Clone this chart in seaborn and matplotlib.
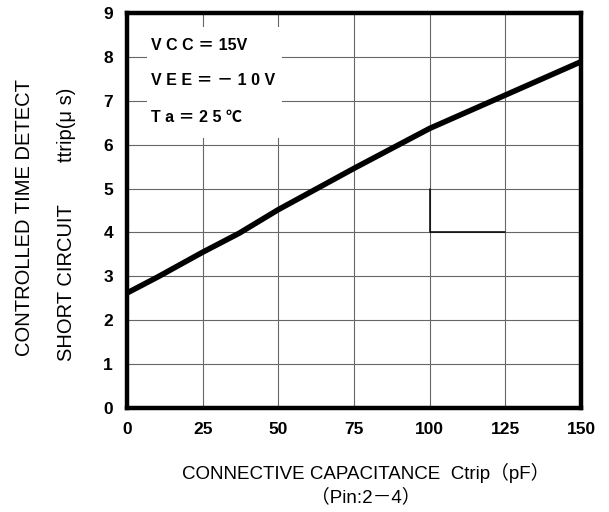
import numpy as np
import pandas as pd
import seaborn as sns
import matplotlib.pyplot as plt
from matplotlib.patches import Rectangle

# curve
ctrip = [0, 10, 25, 37, 50, 75, 100, 125, 150]
ttrip = [2.62, 2.98, 3.55, 3.98, 4.52, 5.46, 6.37, 7.13, 7.89]

x_ticks = [0, 25, 50, 75, 100, 125, 150]
y_ticks = list(range(0, 10))

# darker grid segments in the scan
dark_x = [100, 100, 125]
dark_y = [5, 4, 4]

conditions = ["V C C ＝ 15V", "V E E ＝ － 1 0 V", "T a ＝ 2 5 ℃"]

df = pd.DataFrame({"Ctrip": ctrip, "ttrip": ttrip})

sns.set_style("white")
plt.rcParams['font.family'] = ['Liberation Sans', 'Noto Sans CJK JP', 'DejaVu Sans']
plt.rcParams['text.color'] = 'black'
plt.rcParams['xtick.color'] = 'black'
plt.rcParams['ytick.color'] = 'black'

fig = plt.figure(figsize=(6.09, 5.12), dpi=100)
ax = fig.add_axes([127/609, 1-408/512, 454/609, 395/512])

ax.set_xlim(0, 150)
ax.set_ylim(0, 9)
ax.set_xticks(x_ticks)
ax.set_yticks(y_ticks)
ax.grid(True, color='#666666', linewidth=0.8)
ax.set_axisbelow(True)

# white area behind the conditions text
ax.add_patch(Rectangle((6.6, 6.15), 44.6, 2.53, facecolor='white', edgecolor='none', zorder=1.5))
ax.plot(dark_x, dark_y, color='black', linewidth=1.1, zorder=1.8)

sns.lineplot(data=df, x="Ctrip", y="ttrip", ax=ax, color='black', linewidth=4, zorder=3)

for sp in ax.spines.values():
    sp.set_linewidth(3.2)
    sp.set_color('black')

ax.tick_params(length=0, pad=10, labelsize=12.5)
for lab in ax.get_xticklabels() + ax.get_yticklabels():
    lab.set_fontweight('bold')
ax.set_xlabel("")
ax.set_ylabel("")

cond_y = [8.27, 7.47, 6.63]
for txt, yy in zip(conditions, cond_y):
    ax.text(8, yy, txt, fontsize=11.5, va='center', ha='left', fontweight='bold',
            family=['Liberation Sans', 'Noto Sans CJK JP', 'DejaVu Sans'], zorder=4)

fig.text(25/609, 1-218/512, "CONTROLLED TIME DETECT", rotation=90, ha='center', va='center', fontsize=14.5)
fig.text(66/609, 1-283/512, "SHORT CIRCUIT", rotation=90, ha='center', va='center', fontsize=14.5)
fig.text(66/609, 1-125/512, "ttrip(μ s)", rotation=90, ha='center', va='center', fontsize=14.5)

fig.text(366/609, 1-473/512, "CONNECTIVE CAPACITANCE  Ctrip（pF）", ha='center', va='center', fontsize=13.5,
         family=['Liberation Sans', 'Noto Sans CJK JP'])
fig.text(366/609, 1-497/512, "（Pin:2－4）", ha='center', va='center', fontsize=13.5,
         family=['Liberation Sans', 'Noto Sans CJK JP'])

fig.savefig("out.png", dpi=100)
